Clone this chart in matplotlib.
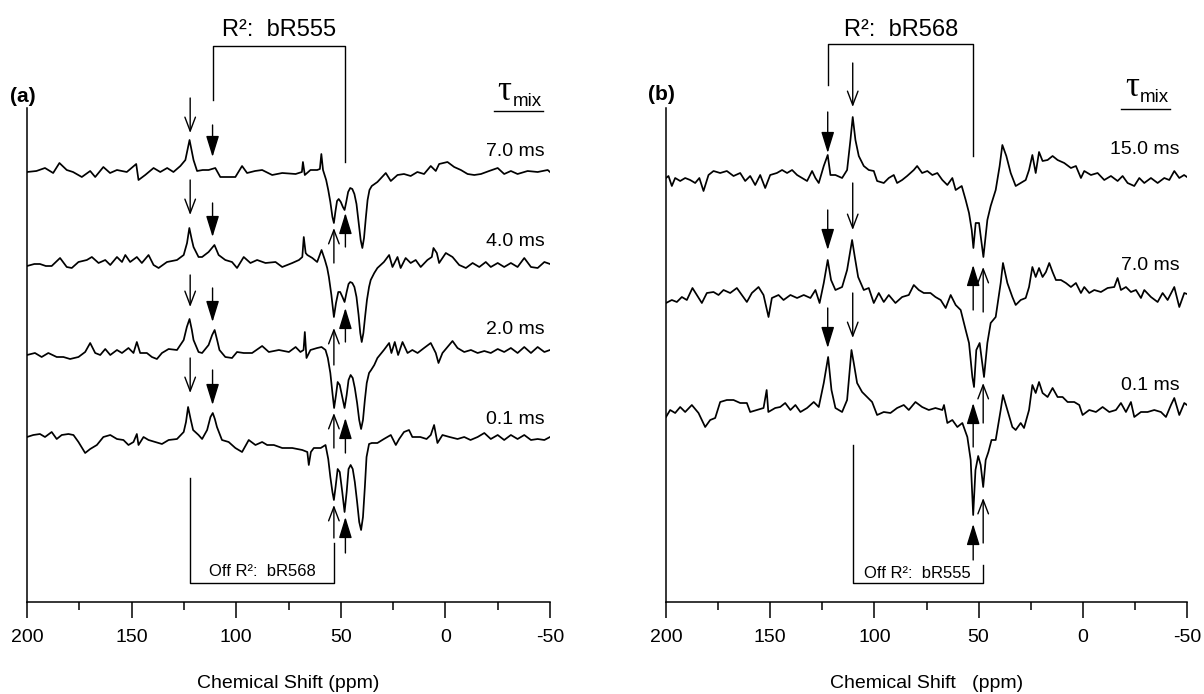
import numpy as np
import matplotlib
matplotlib.use("Agg")
import matplotlib.pyplot as plt
from matplotlib.ticker import MultipleLocator

plt.rcParams['font.family'] = ['Liberation Sans', 'DejaVu Sans']

# ---------------------------------------------------------------------------
# 13C difference spectra, (ppm, intensity) pairs; intensity in arbitrary
# units relative to each trace's own baseline.
# ---------------------------------------------------------------------------
a_7p0 = [(200, 0), (195.5, 1), (191.4, 4), (187.5, -1), (184.5, 9), (181, 2), (178, 0),
         (173.8, -5), (169.8, 1), (167.4, -5), (163.5, 5), (160.3, -1), (157, 2), (152.3, 0),
         (147.8, 8), (146.7, -8), (143.5, -3), (139.5, 4), (136.3, 0), (133, 4), (130, 0),
         (126.7, 6), (124.3, 12), (122.3, 32), (120.4, 12), (118.7, 1), (116, 2), (113.2, 2),
         (110, 4), (107.6, -5), (100.4, -5), (97.2, 6), (94.8, -1), (91, 1), (87.6, 2),
         (82.8, -3), (78, -1), (71.6, -2), (68.6, 0), (68.1, 10), (67.2, -3), (64.5, 2),
         (61.3, 2), (60, 3), (59.3, 18), (58.5, 2), (57, -8), (56, -18), (55, -30), (54, -45),
         (53.3, -51), (52.6, -40), (51.8, -29), (51, -27), (50, -30), (49, -35), (48.2, -38),
         (47.4, -30), (46.5, -20), (45.5, -16), (44.5, -17), (43.5, -22), (42.5, -32),
         (41.5, -50), (40.5, -68), (39.7, -76), (38.9, -66), (38, -45), (37.2, -28),
         (36.3, -18), (35.2, -14), (32.5, -10), (28.5, -1), (26.1, -9), (22.9, -3), (19.8, -2),
         (16.6, -4), (13.4, 0), (10.2, -2), (7, 6), (4.6, 1), (3, 8), (-1, 10), (-4.2, 5),
         (-7.4, 2), (-10.6, -2), (-13.8, -3), (-17, -2), (-20.9, 1), (-25, 4), (-28.1, -2),
         (-31.3, 1), (-34.5, -2), (-39.3, 1), (-44.1, 0), (-48.9, 2), (-50, 0)]

a_4p0 = [(200, -1), (196.5, 1), (193.8, 1), (191, -1), (188.2, -1), (184.2, 7), (181, -2),
         (178.6, -3), (175.4, 3), (171.4, 5), (169, 8), (165.8, 2), (162.6, 5), (160.2, 0),
         (157, 8), (154.6, 3), (153, 10), (150.7, 3), (147.5, 8), (145.1, 2), (141.9, 10),
         (139.5, 0), (137.1, -3), (133.1, 3), (128.3, 5), (125.1, 10), (123.5, 22),
         (122.4, 37), (121.3, 26), (120.4, 18), (118, 8), (116.3, 8), (113.2, 13), (110.4, 20),
         (108.4, 10), (105.2, 5), (102, 3), (99.6, -3), (96.4, 8), (93.2, 2), (90, 5), (86, 2),
         (81.2, 3), (78, -2), (73.2, 2), (70, 5), (68.4, 8), (67.7, 28), (66.8, 12), (66, 10),
         (63.6, 7), (61.3, 3), (59.2, 15), (57.6, 5), (56.5, -3), (55.7, -12), (54.5, -30),
         (53.3, -52), (52.3, -38), (51.2, -27), (50.3, -27), (49.2, -32), (48.2, -37),
         (47.2, -27), (46.3, -19), (45.5, -17), (44.5, -18), (43.5, -22), (42.5, -32),
         (41.5, -50), (40.7, -68), (40, -77), (39.2, -68), (38.3, -50), (37.5, -35),
         (36.5, -22), (35.7, -15), (34, -8), (32.5, -3), (29.4, 3), (26.9, 10), (25.3, -2),
         (22.9, 8), (21.4, -3), (19, 7), (16.6, 2), (14.2, 5), (11.8, -2), (8.6, 5), (6.5, 8),
         (5.7, 17), (4.1, 12), (3, 2), (-0.2, 12), (-3.4, 8), (-6.6, 0), (-9.8, -3), (-13, 2),
         (-16.2, -2), (-19.3, 3), (-21.7, -2), (-25, 2), (-28.1, -2), (-31.3, 2), (-34.5, -2),
         (-37.7, 7), (-40.9, -2), (-44.1, -3), (-47.3, 3), (-50, 1)]

a_2p0 = [(200, 0), (196.2, 2), (193, -2), (189.8, 2), (185.8, -2), (182.6, -2), (179.4, -4),
         (175.4, -2), (172.2, 3), (169.8, 12), (167.4, 2), (165, 0), (162.6, 6), (160.2, 0),
         (157, 5), (154.6, 2), (151.5, 7), (149.1, 2), (147.5, 13), (145.9, 2), (142.7, 2),
         (140.3, -2), (137.9, -4), (135.5, 2), (132.3, 6), (128.3, 5), (125.1, 15),
         (123.6, 28), (122.3, 36), (121.2, 25), (120.4, 15), (118, 3), (116.3, 2), (113.2, 10),
         (111.5, 20), (110.3, 25), (109, 14), (108, 5), (105.2, -2), (102, -3), (99.6, 3),
         (96.4, 2), (92.4, 2), (87.6, 9), (84.4, 3), (79.6, 5), (74.8, 3), (71.6, 8),
         (69.3, 3), (67.8, 5), (67.2, 23), (66.4, -3), (64.5, 5), (61.3, 7), (59.2, 8),
         (57.3, 5), (56.2, -3), (55, -18), (54, -38), (53.2, -53), (52.3, -40), (51.5, -27),
         (50.5, -30), (49.5, -40), (48.2, -53), (47.2, -40), (46.3, -25), (45.3, -20),
         (44.3, -23), (43.3, -33), (42.2, -48), (41.2, -65), (40.3, -74), (39.4, -65),
         (38.5, -45), (37.6, -28), (36.5, -18), (35.5, -15), (34, -10), (32.5, -3), (29.4, 5),
         (26.9, 12), (25.8, 2), (24.2, 13), (22.6, 0), (20.5, 13), (18.1, 2), (15.8, 5),
         (13.3, 2), (10.2, 7), (7, 12), (4.6, 2), (3.3, -8), (1.4, 2), (-1, 8), (-3.4, 14),
         (-5.8, 7), (-9, 3), (-12.2, 5), (-15.4, 2), (-18.6, 4), (-21.7, 2), (-25, 6),
         (-28.1, 3), (-31.3, 7), (-34.5, 2), (-37.7, 8), (-40.9, 2), (-44.1, 8), (-47.3, 3),
         (-50, 5)]

a_0p1 = [(200, 0), (197, 2), (193.8, 3), (191.4, 0), (188.2, 5), (185.8, -2), (183.4, 2),
         (180.2, 3), (177.8, 2), (175.4, -5), (172.2, -16), (169.8, -12), (166.6, -8),
         (163.5, 0), (160.2, 2), (157, -2), (153.9, -3), (151.5, -8), (149.1, -5), (147.5, 3),
         (146.7, -8), (144.3, 0), (141.9, -3), (138.7, -5), (135.5, -7), (132.3, -3),
         (128.3, -2), (125.1, 5), (124, 15), (123, 30), (121.8, 18), (120.6, 7), (118, 2),
         (116.3, -2), (113.9, 7), (112.3, 20), (111.2, 24), (110.2, 18), (109.2, 10),
         (106.8, -3), (103.6, -5), (100.4, -11), (97.2, -15), (94, -3), (90.8, -8), (87.6, -5),
         (85.2, -8), (82, -8), (78, -11), (73.2, -11), (68.4, -13), (66, -15), (65.3, -28),
         (64.3, -15), (62.9, -11), (59.6, -11), (57.3, -8), (56, -22), (55, -40), (54, -55),
         (53.3, -63), (52.5, -50), (51.5, -32), (50.5, -35), (49.3, -55), (48.2, -75),
         (47.2, -55), (46.3, -32), (45.3, -28), (44.3, -32), (43.3, -45), (42.2, -65),
         (41.2, -85), (40.3, -93), (39.4, -80), (38.5, -50), (37.7, -20), (36.5, -7),
         (35.2, -6), (32.5, -6), (29.4, -2), (26.1, 2), (23.7, -8), (22.1, -2), (19.8, 5),
         (17.4, 7), (15.8, 0), (12, 0), (9, -2), (7, 2), (5.4, 12), (3.8, -6), (1.4, 2),
         (-2, 0), (-5.8, -2), (-9, 0), (-12, -3), (-15.4, 0), (-18.6, 4), (-21.7, -2),
         (-25, 2), (-28.1, -3), (-31.3, 2), (-34.5, -2), (-37.7, 2), (-40.9, -3), (-44.1, -2),
         (-47.3, -3), (-50, 0)]

b_15p0 = [(200, 0), (198.8, 2), (197.2, -8), (195.6, 0), (193.2, -3), (190.8, 0), (188.4, -2),
          (186, -5), (184, 0), (182, -13), (179.6, 3), (177.2, 7), (174, 5), (170.8, 7),
          (167.6, 2), (164.4, 5), (162, -3), (159.6, 2), (157.2, -7), (154.8, 3), (152.4, -10),
          (150, 3), (146.8, 5), (144.3, 8), (141.9, 5), (139.5, 8), (137.1, 3), (134.7, 0),
          (132.3, -3), (129.9, 7), (128.3, 0), (126.7, -5), (124.3, 12), (122.4, 23),
          (121.1, 3), (118.7, 3), (115.5, 0), (113.1, 8), (111.5, 38), (110.4, 61),
          (109.1, 38), (107.5, 22), (105.1, 12), (102.7, 8), (100.3, 7), (98.7, -3), (95.5, -5),
          (93.1, 0), (90.7, 3), (89.1, -5), (86.7, -2), (84.3, 2), (81.1, 8), (79.5, 12),
          (77.1, 5), (74.6, 7), (72.2, 3), (69.8, 5), (67.4, -2), (65, -7), (62.6, 0),
          (61, -12), (58.1, -8), (56.2, -22), (54.6, -35), (53.3, -52), (52.5, -70),
          (51.4, -45), (49.8, -45), (47.7, -79), (45.8, -42), (44.2, -28), (41.8, -12),
          (39.9, 12), (38.6, 33), (36.7, 22), (34.6, 5), (32.2, -8), (29.8, -5), (27.4, -2),
          (25.8, 8), (24.2, 23), (22.6, 5), (21, 26), (19.3, 17), (16.9, 18), (14.5, 22),
          (12.1, 18), (8.9, 15), (5.7, 10), (3.3, 12), (0.9, 0), (-0.7, 7), (-3.9, 3),
          (-7.1, 5), (-10.3, -2), (-13.5, 2), (-16.7, -3), (-19.1, 2), (-21.5, -5), (-24.7, -8),
          (-27.1, 0), (-29.5, -5), (-32.7, 0), (-35.9, -5), (-39.1, 0), (-41.5, -2),
          (-43.9, 7), (-46.3, 0), (-48.6, 3), (-50, 1)]

b_7p0 = [(200, -3), (197.2, 0), (194.8, -2), (192.4, 3), (190, 0), (187.3, 12), (185.2, 5),
         (182.8, -3), (180.4, 7), (177.2, 8), (174.8, 5), (172.4, 10), (169.2, 7), (166, 12),
         (163.6, 5), (161.2, -2), (158.8, 7), (155.6, 13), (153.2, 5), (150.8, -17),
         (149.2, 2), (146, 5), (143.6, 0), (140.3, 5), (137.1, 2), (133.9, 5), (130.7, 2),
         (128.3, 10), (126.3, -3), (124.3, 17), (122.4, 40), (120.8, 20), (118.7, 10),
         (115.5, 13), (113.1, 30), (110.7, 60), (109.4, 43), (107.8, 23), (105.1, 10),
         (102.7, 12), (100.3, -3), (97.9, 7), (95.5, -2), (93.1, 5), (89.9, -3), (86.7, 3),
         (83.5, 5), (81.1, 15), (78.7, 10), (76.3, 7), (73.1, 7), (70.7, 3), (68.2, 0),
         (65.8, -8), (63.4, 5), (61, -5), (58.6, -10), (56.2, -30), (54.6, -43), (53, -77),
         (52.2, -87), (51.1, -50), (49.5, -43), (47.4, -77), (45.8, -43), (44.2, -23),
         (41.8, -17), (39.4, 17), (38.3, 37), (36.2, 17), (33.8, 3), (32.2, -5), (29.8, 0),
         (27.4, 2), (25.8, 13), (24.2, 33), (22.6, 23), (21, 32), (19.3, 23), (17.7, 28),
         (16.1, 37), (14.5, 28), (12.9, 20), (10.5, 20), (8.1, 17), (5.7, 13), (3.3, 17),
         (0.9, 7), (-0.7, 13), (-3.1, 7), (-5.5, 10), (-8.7, 8), (-11.9, 12), (-15.1, 13),
         (-16.7, 22), (-18.3, 10), (-20.7, 13), (-23.1, 8), (-25.5, 10), (-27.9, 2),
         (-29.5, 10), (-32.7, 3), (-35.9, -2), (-38.3, 7), (-40.7, 0), (-43.9, 13),
         (-46.3, -7), (-48.7, 7), (-50, 6)]

b_0p1 = [(200, -7), (198, 0), (195.6, -3), (193.2, 3), (190.8, -2), (187.6, 5), (184.4, -3),
         (181.2, -17), (178.8, -10), (176.4, -8), (174, 8), (170.8, 10), (167.6, 10),
         (164.4, 7), (161.2, 7), (159.6, -2), (156.4, 0), (153.2, 2), (151.7, 20), (150.9, -2),
         (147.6, 2), (145.2, 3), (142.8, 7), (140.3, 0), (137.9, 5), (135.5, -2), (132.3, 2),
         (129.1, 8), (126.7, 3), (124.3, 27), (122.2, 53), (120.6, 20), (118.7, 2),
         (115.5, -2), (113.1, 10), (111, 60), (109.9, 47), (108.3, 27), (105.9, 18),
         (103.5, 13), (101.1, 8), (98.7, -5), (95.5, -2), (92.3, -3), (89.1, 2), (85.9, 5),
         (83.5, 0), (80.3, 8), (77.1, 3), (73.9, 0), (70.7, 2), (67.4, 0), (66.6, 5),
         (65, -13), (62.6, -10), (60.2, -17), (57.8, -13), (55.4, -27), (53.8, -50),
         (52.6, -105), (51.5, -60), (50.2, -46), (49, -55), (47.8, -77), (46.6, -50),
         (45.3, -42), (43.8, -30), (41.8, -30), (39.4, 0), (38.3, 15), (36.2, 0), (33.8, -17),
         (32.2, -20), (29.8, -13), (28.2, -18), (25.8, 0), (24.2, 25), (22.6, 17), (21, 28),
         (19.3, 17), (16.9, 13), (14.5, 22), (12.1, 13), (9.7, 13), (7.3, 8), (4.1, 8),
         (1.7, 5), (0.1, -5), (-3.1, 0), (-6.3, -2), (-9.5, 3), (-12.7, -2), (-15.9, 0),
         (-18.3, 7), (-20.7, -2), (-23.1, 8), (-24.7, -7), (-27.9, -2), (-31.1, -2),
         (-34.3, 0), (-37.5, -2), (-39.9, -7), (-42.3, 5), (-43.9, 12), (-46.3, -5),
         (-48.7, 7), (-50, 5)]

mix_times_a = ["7.0 ms", "4.0 ms", "2.0 ms", "0.1 ms"]
mix_times_b = ["15.0 ms", "7.0 ms", "0.1 ms"]
xticks = [200, 150, 100, 50, 0, -50]

# ---------------------------------------------------------------------------
W, H = 1204, 694
AX_TOP, AX_BOT = 108, 602
fig = plt.figure(figsize=(W / 100, H / 100), dpi=100)


def Y(px):
    """vertical layout position -> data units (axis bottom at 0)"""
    return AX_BOT - px


def make_axes(x0, x1):
    ax = fig.add_axes([x0 / W, 1 - AX_BOT / H, (x1 - x0) / W, (AX_BOT - AX_TOP) / H])
    ax.set_xlim(200, -50)
    ax.set_ylim(0, AX_BOT - AX_TOP)
    for s in ("top", "right"):
        ax.spines[s].set_visible(False)
    ax.spines["left"].set_linewidth(1.1)
    ax.spines["bottom"].set_linewidth(1.1)
    ax.set_yticks([])
    ax.set_xticks(xticks)
    ax.set_xticklabels([str(t) for t in xticks])
    ax.xaxis.set_minor_locator(MultipleLocator(25))
    ax.tick_params(axis="x", which="major", direction="out", length=11.5, width=1.1,
                   pad=8, labelsize=14)
    ax.tick_params(axis="x", which="minor", direction="out", length=6, width=1.1)
    return ax


def draw_trace(ax, pairs, baseline_px):
    arr = np.array(pairs, dtype=float)
    ax.plot(arr[:, 0], Y(baseline_px) + arr[:, 1], color="black", lw=1.25,
            solid_joinstyle="round")


def arrow(ax, ppm, tail_px, tip_px, filled):
    if filled:
        style = "-|>,head_length=1.3,head_width=0.4"
    else:
        style = "->,head_length=1.0,head_width=0.38"
    ax.annotate("", xy=(ppm, Y(tip_px)), xytext=(ppm, Y(tail_px)),
                annotation_clip=False,
                arrowprops=dict(arrowstyle=style, color="black", fc="black", lw=1.0,
                                shrinkA=0, shrinkB=0))


def bracket(ax, pts):
    xs, ys = zip(*pts)
    ax.plot(xs, [Y(v) for v in ys], color="black", lw=1.0, clip_on=False)


def tau_mix(x_tau, y_tau, x_mix, y_mix, x_line):
    fig.text(x_tau / W, 1 - y_tau / H, "\u03c4", fontsize=25, ha="left", va="center",
             family=["Liberation Serif", "DejaVu Serif"])
    fig.text(x_mix / W, 1 - y_mix / H, "mix", fontsize=13.5, ha="left", va="center")
    fig.add_artist(plt.Line2D([x_line[0] / W, x_line[1] / W],
                              [1 - x_line[2] / H, 1 - x_line[2] / H],
                              color="black", lw=1.0))


# ------------------------------ panel (a) ---------------------------------
axa = make_axes(27, 550)
for pairs, base in zip([a_7p0, a_4p0, a_2p0, a_0p1], [172, 265, 355, 437]):
    draw_trace(axa, pairs, base)

for lab, ypx in zip(mix_times_a, [151, 242, 329, 420]):
    axa.text(-47.5, Y(ypx), lab, ha="right", va="center", fontsize=14, clip_on=False)

# downward arrows: 122 ppm (open head) and 111 ppm (solid head)
for (t1, h1), (t2, h2) in [((98, 133), (125, 157)), ((180, 215), (203, 237)),
                           ((275, 307), (288, 322)), ((358, 393), (370, 405))]:
    arrow(axa, 122.0, t1, h1, False)
    arrow(axa, 111.3, t2, h2, True)
# upward arrows under the 53 ppm (open) and 48 ppm (solid) lines
for (t1, h1), (t2, h2) in [((263, 228), (247, 213)), ((365, 328), (342, 308)),
                           ((448, 413), (453, 418)), ((538, 505), (553, 517))]:
    arrow(axa, 53.3, t1, h1, False)
    arrow(axa, 47.8, t2, h2, True)

bracket(axa, [(111.3, 100), (111.3, 46), (47.8, 46), (47.8, 162)])
axa.text(79.5, Y(30), "R\u00b2:  bR555", ha="center", va="center", fontsize=17,
         clip_on=False)
bracket(axa, [(122.0, 478), (122.0, 583), (53.3, 583), (53.3, 543)])
axa.text(87.6, Y(571), "Off R\u00b2:  bR568", ha="center", va="center", fontsize=12,
         clip_on=False)

axa.set_xlabel("Chemical Shift (ppm)", fontsize=14)
axa.xaxis.set_label_coords(0.5, -(684 - AX_BOT) / (AX_BOT - AX_TOP))
axa.xaxis.label.set_va("center")

fig.text(10 / W, 1 - 96 / H, "(a)", fontsize=15, fontweight="bold", ha="left", va="center")
tau_mix(497, 91, 513, 101, (494, 543, 111))

# ------------------------------ panel (b) ---------------------------------
axb = make_axes(666, 1187)
for pairs, base in zip([b_15p0, b_7p0, b_0p1], [178, 300, 410]):
    draw_trace(axb, pairs, base)

for lab, ypx in zip(mix_times_b, [150, 266, 385]):
    axb.text(-46.5, Y(ypx), lab, ha="right", va="center", fontsize=14, clip_on=False)

# downward arrows: 122 ppm (solid head) and 110 ppm (open head)
for (t1, h1), (t2, h2) in [((112, 153), (63, 107)), ((210, 250), (183, 230)),
                           ((308, 348), (293, 338))]:
    arrow(axb, 122.4, t1, h1, True)
    arrow(axb, 110.4, t2, h2, False)
# upward arrows: 53 ppm (solid head) and 48 ppm (open head)
for (t1, h1), (t2, h2) in [((310, 265), (312, 267)), ((447, 403), (423, 383)),
                           ((560, 524), (543, 498))]:
    arrow(axb, 52.6, t1, h1, True)
    arrow(axb, 47.8, t2, h2, False)

bracket(axb, [(122.4, 85), (122.4, 44), (52.6, 44), (52.6, 156)])
axb.text(87.0, Y(30), "R\u00b2:  bR568", ha="center", va="center", fontsize=17,
         clip_on=False)
bracket(axb, [(110.4, 445), (110.4, 583), (47.8, 583), (47.8, 565)])
axb.text(79.5, Y(573), "Off R\u00b2:  bR555", ha="center", va="center", fontsize=12,
         clip_on=False)

axb.set_xlabel("Chemical Shift   (ppm)", fontsize=14)
axb.xaxis.set_label_coords(0.5, -(684 - AX_BOT) / (AX_BOT - AX_TOP))
axb.xaxis.label.set_va("center")

fig.text(648 / W, 1 - 94 / H, "(b)", fontsize=15, fontweight="bold", ha="left", va="center")
tau_mix(1125, 87, 1140, 98, (1121, 1170, 109))

fig.savefig("out.png", dpi=100)
